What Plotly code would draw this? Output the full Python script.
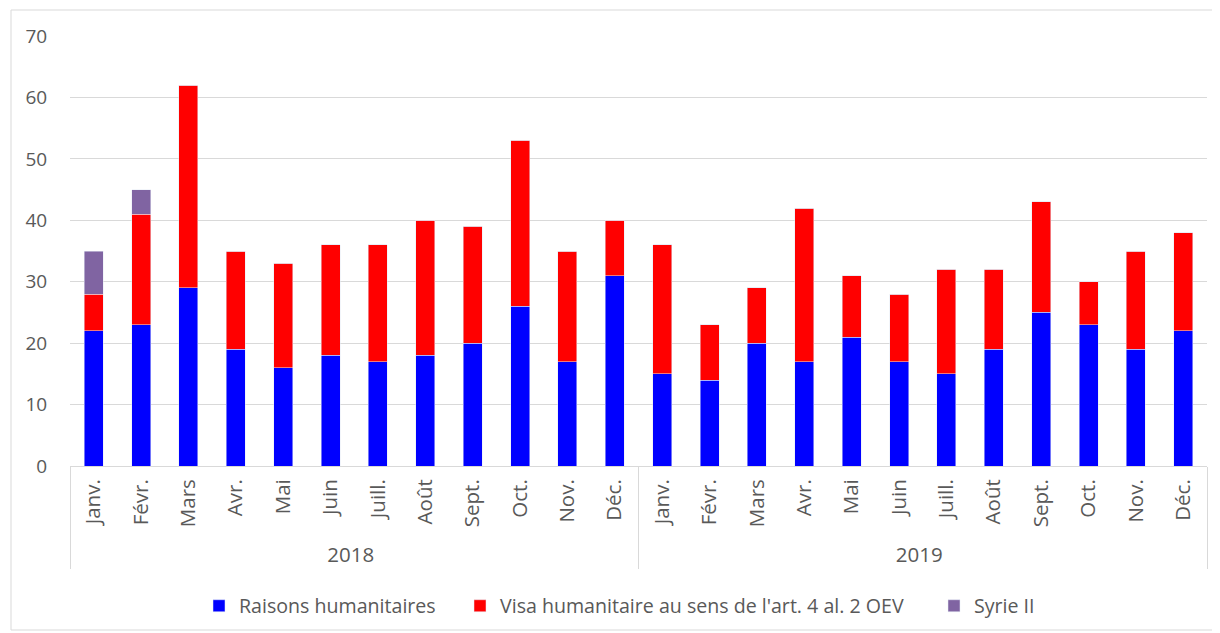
import plotly.graph_objects as go

months = ["Janv.", "Févr.", "Mars", "Avr.", "Mai", "Juin", "Juill.", "Août", "Sept.", "Oct.", "Nov.", "Déc."]
years = ["2018", "2019"]
raisons_2018 = [22, 23, 29, 19, 16, 18, 17, 18, 20, 26, 17, 31]
raisons_2019 = [15, 14, 20, 17, 21, 17, 15, 19, 25, 23, 19, 22]
visa_2018 = [6, 18, 33, 16, 17, 18, 19, 22, 19, 27, 18, 9]
visa_2019 = [21, 9, 9, 25, 10, 11, 17, 13, 18, 7, 16, 16]
syrie_2018 = [7, 4, 0, 0, 0, 0, 0, 0, 0, 0, 0, 0]
syrie_2019 = [0, 0, 0, 0, 0, 0, 0, 0, 0, 0, 0, 0]

x = [[y for y in years for _ in months], months * 2]

fig = go.Figure()
fig.add_bar(x=x, y=raisons_2018 + raisons_2019, name="Raisons humanitaires",
            marker_color="#0000FF", legend="legend")
fig.add_bar(x=x, y=visa_2018 + visa_2019, name="Visa humanitaire au sens de l'art. 4 al. 2 OEV",
            marker_color="#FF0000", legend="legend2")
fig.add_bar(x=x, y=syrie_2018 + syrie_2019, name="Syrie II",
            marker_color="#8064A2", legend="legend3")

font = dict(family="Open Sans", size=19, color="#595959")
xfont = dict(family="Open Sans", size=20.5, color="#595959")
lfont = dict(family="Open Sans", size=19.6, color="#595959")

def leg(text_x):
    # text_x: page x where the legend text should begin (plot area starts at page x 70, 1137 px wide)
    return dict(orientation="h", x=(text_x - 40 - 70) / 1137, xanchor="left",
                y=(466 - 606) / 430, yanchor="middle", font=lfont,
                bgcolor="rgba(0,0,0,0)", borderwidth=0)

# page has an 8px body margin: figure is offset by 8px
fig.update_layout(
    barmode="stack",
    bargap=0.6,
    width=1212, height=625,
    margin=dict(l=62, r=13, t=28, b=167, autoexpand=False),
    plot_bgcolor="white", paper_bgcolor="white",
    font=font,
    showlegend=True,
    legend=leg(239),
    legend2=leg(500),
    legend3=leg(974),
    yaxis=dict(range=[0, 70], dtick=10, showgrid=True, gridcolor="#d9d9d9", gridwidth=1,
               zeroline=False, showline=False, ticks="outside", ticklen=18, tickcolor="rgba(0,0,0,0)",
               tickfont=font),
    xaxis=dict(type="multicategory", showline=True, linecolor="#d9d9d9", linewidth=1,
               showdividers=True, dividercolor="#d9d9d9", dividerwidth=1,
               tickangle=-90, tickfont=xfont, ticklabelstandoff=4),
)
fig.add_shape(type="rect", xref="paper", yref="paper",
              x0=(11 - 70) / 1137, x1=(1215 - 70) / 1137,
              y0=(466 - 630) / 430, y1=(466 - 10) / 430,
              line=dict(color="#d9d9d9", width=1), fillcolor="rgba(0,0,0,0)", layer="below")
fig.write_html("out.html")
